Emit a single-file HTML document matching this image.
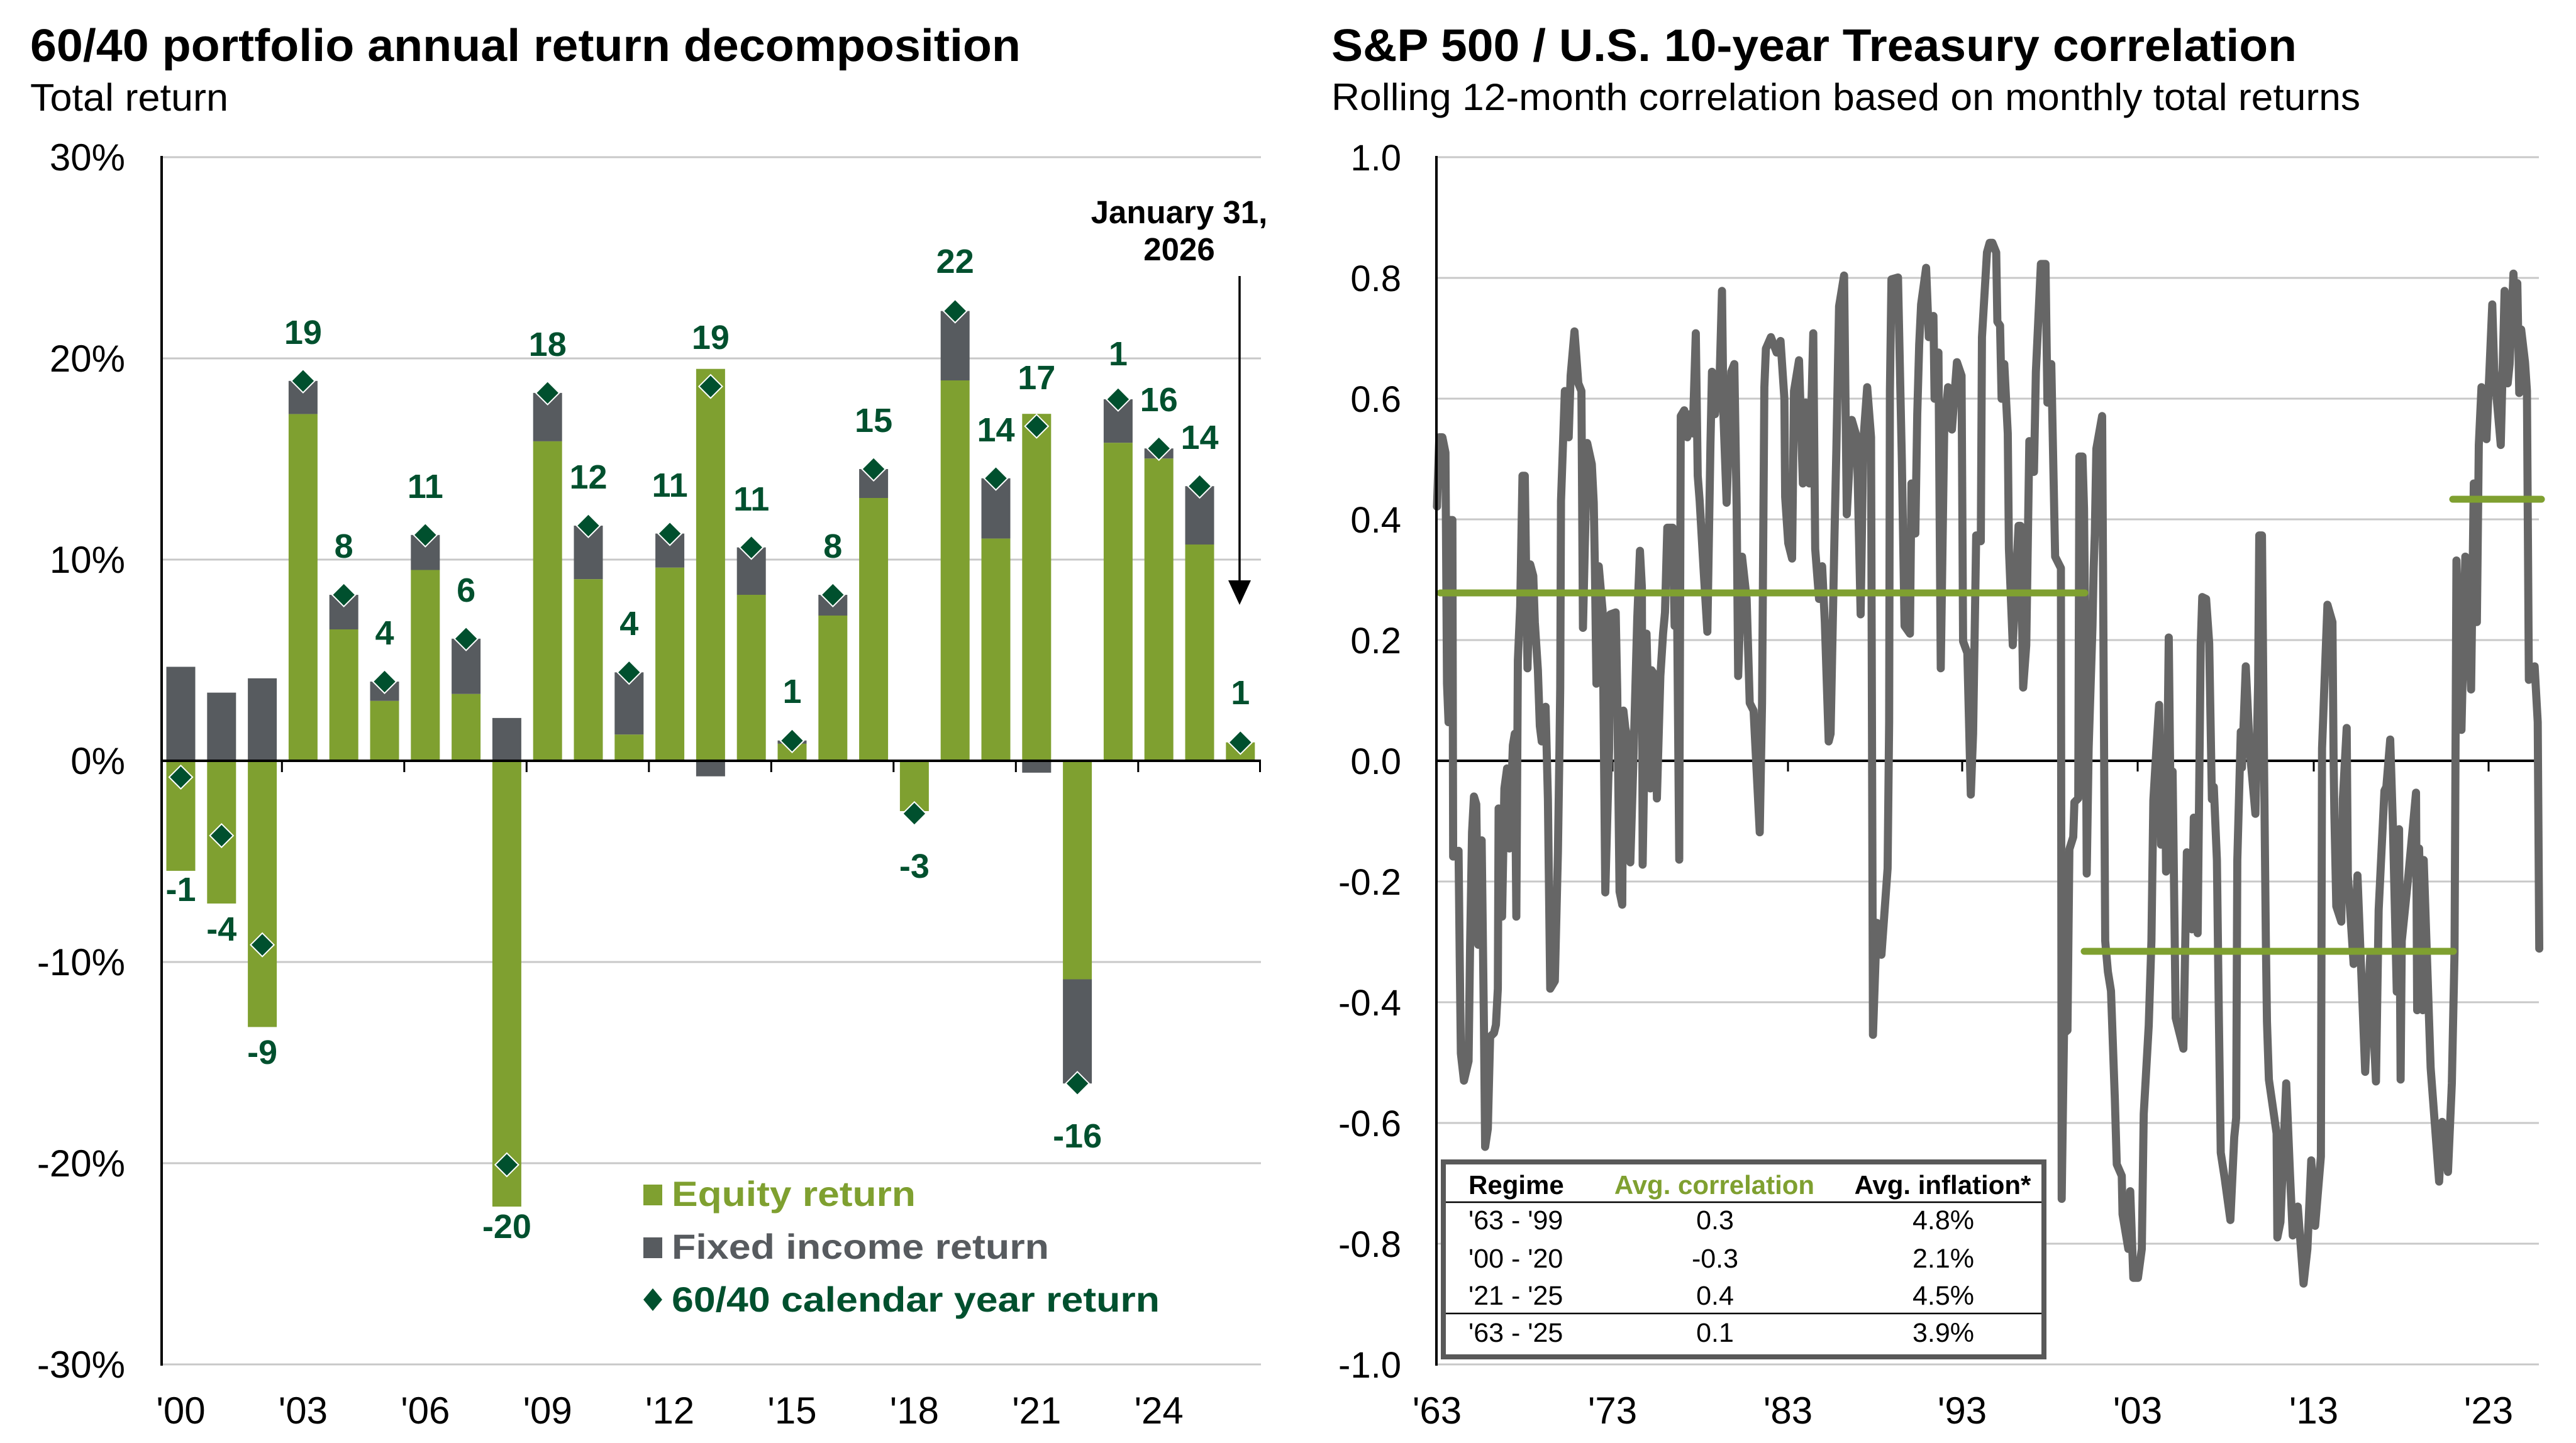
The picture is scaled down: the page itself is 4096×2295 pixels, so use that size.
<!DOCTYPE html>
<html><head><meta charset="utf-8"><style>
html,body{margin:0;padding:0;background:#fff;}
body{width:4096px;height:2295px;overflow:hidden;}
svg{display:block;font-family:"Liberation Sans",Arial,sans-serif;}
</style></head><body>
<svg width="4096" height="2295" viewBox="0 0 4096 2295" xmlns="http://www.w3.org/2000/svg">
<rect x="0" y="0" width="4096" height="2295" fill="#fff"/>

<!-- ============ LEFT CHART ============ -->
<text x="48" y="97" font-size="72" font-weight="bold" fill="#000" textLength="1575" lengthAdjust="spacingAndGlyphs">60/40 portfolio annual return decomposition</text>
<text x="48" y="176" font-size="61" fill="#000" textLength="315" lengthAdjust="spacingAndGlyphs">Total return</text>

<g stroke="#c8c8c8" stroke-width="3">
<line x1="257" y1="250" x2="2005" y2="250"/>
<line x1="257" y1="570" x2="2005" y2="570"/>
<line x1="257" y1="890" x2="2005" y2="890"/>
<line x1="257" y1="1530" x2="2005" y2="1530"/>
<line x1="257" y1="1850" x2="2005" y2="1850"/>
<line x1="257" y1="2170" x2="2005" y2="2170"/>
</g>

<g font-size="60" fill="#000" text-anchor="end">
<text x="199" y="271">30%</text>
<text x="199" y="591">20%</text>
<text x="199" y="911">10%</text>
<text x="199" y="1231">0%</text>
<text x="199" y="1551">-10%</text>
<text x="199" y="1871">-20%</text>
<text x="199" y="2191">-30%</text>
</g>

<!-- bars: gray fixed income -->
<g fill="#575b5f">
<rect x="264.5" y="1060.5" width="46" height="149.5"/>
<rect x="329.3" y="1101.6" width="46" height="108.4"/>
<rect x="394.1" y="1078.8" width="46" height="131.2"/>
<rect x="458.9" y="605.8" width="46" height="52.8"/>
<rect x="523.7" y="946" width="46" height="55"/>
<rect x="588.5" y="1084" width="46" height="30.8"/>
<rect x="653.3" y="850.8" width="46" height="55.7"/>
<rect x="718.1" y="1015.8" width="46" height="88"/>
<rect x="782.9" y="1141.9" width="46" height="68.1"/>
<rect x="847.7" y="624.9" width="46" height="77"/>
<rect x="912.5" y="836" width="46" height="85.2"/>
<rect x="977.3" y="1069.3" width="46" height="99"/>
<rect x="1042.1" y="848.6" width="46" height="54.2"/>
<rect x="1106.9" y="1210" width="46" height="24.7"/>
<rect x="1171.7" y="870.6" width="46" height="75.4"/>
<rect x="1236.5" y="1177.7" width="46" height="5.2"/>
<rect x="1301.3" y="946" width="46" height="33"/>
<rect x="1366.1" y="746" width="46" height="46"/>
<rect x="1495.7" y="494.6" width="46" height="110.4"/>
<rect x="1560.5" y="760.7" width="46" height="95.9"/>
<rect x="1625.3" y="1210" width="46" height="18.9"/>
<rect x="1690.1" y="1557.5" width="46" height="165.7"/>
<rect x="1754.9" y="635" width="46" height="69.3"/>
<rect x="1819.7" y="713.2" width="46" height="16.1"/>
<rect x="1884.5" y="773.2" width="46" height="92.8"/>
</g>
<!-- bars: green equity -->
<g fill="#7fa030">
<rect x="264.5" y="1210" width="46" height="175"/>
<rect x="329.3" y="1210" width="46" height="227"/>
<rect x="394.1" y="1210" width="46" height="423.4"/>
<rect x="458.9" y="658.6" width="46" height="551.4"/>
<rect x="523.7" y="1001" width="46" height="209"/>
<rect x="588.5" y="1114.8" width="46" height="95.2"/>
<rect x="653.3" y="906.5" width="46" height="303.5"/>
<rect x="718.1" y="1103.8" width="46" height="106.2"/>
<rect x="782.9" y="1210" width="46" height="709"/>
<rect x="847.7" y="701.9" width="46" height="508.1"/>
<rect x="912.5" y="921.2" width="46" height="288.8"/>
<rect x="977.3" y="1168.3" width="46" height="41.7"/>
<rect x="1042.1" y="902.8" width="46" height="307.2"/>
<rect x="1106.9" y="586.7" width="46" height="623.3"/>
<rect x="1171.7" y="946" width="46" height="264"/>
<rect x="1236.5" y="1182.9" width="46" height="27.1"/>
<rect x="1301.3" y="979" width="46" height="231"/>
<rect x="1366.1" y="792" width="46" height="418"/>
<rect x="1430.9" y="1210" width="46" height="80"/>
<rect x="1495.7" y="605" width="46" height="605"/>
<rect x="1560.5" y="856.6" width="46" height="353.4"/>
<rect x="1625.3" y="658.2" width="46" height="551.8"/>
<rect x="1690.1" y="1210" width="46" height="347.5"/>
<rect x="1754.9" y="704.3" width="46" height="505.7"/>
<rect x="1819.7" y="729.3" width="46" height="480.7"/>
<rect x="1884.5" y="866" width="46" height="344"/>
<rect x="1949.3" y="1180.7" width="46" height="29.3"/>
</g>

<!-- axes -->
<line x1="257" y1="248" x2="257" y2="2172" stroke="#000" stroke-width="4"/>
<line x1="255" y1="1210" x2="2005" y2="1210" stroke="#000" stroke-width="4"/>
<g stroke="#000" stroke-width="3">
<line x1="448.3" y1="1210" x2="448.3" y2="1228"/>
<line x1="642.8" y1="1210" x2="642.8" y2="1228"/>
<line x1="837.3" y1="1210" x2="837.3" y2="1228"/>
<line x1="1031.8" y1="1210" x2="1031.8" y2="1228"/>
<line x1="1226.3" y1="1210" x2="1226.3" y2="1228"/>
<line x1="1420.8" y1="1210" x2="1420.8" y2="1228"/>
<line x1="1615.3" y1="1210" x2="1615.3" y2="1228"/>
<line x1="1809.8" y1="1210" x2="1809.8" y2="1228"/>
<line x1="2003.5" y1="1210" x2="2003.5" y2="1228"/>
</g>

<!-- diamonds -->
<g fill="#00502e" stroke="#fff" stroke-width="2">
<polygon points="287.5,1217.4 306.1,1236 287.5,1254.6 268.9,1236"/>
<polygon points="352.3,1310.4 370.9,1329 352.3,1347.6 333.7,1329"/>
<polygon points="417.1,1484.1 435.7,1502.7 417.1,1521.3 398.5,1502.7"/>
<polygon points="481.9,587.2 500.5,605.8 481.9,624.4 463.3,605.8"/>
<polygon points="546.7,927.4 565.3,946 546.7,964.6 528.1,946"/>
<polygon points="611.5,1065.4 630.1,1084 611.5,1102.6 592.9,1084"/>
<polygon points="676.3,832.2 694.9,850.8 676.3,869.4 657.7,850.8"/>
<polygon points="741.1,997.2 759.7,1015.8 741.1,1034.4 722.5,1015.8"/>
<polygon points="805.9,1833.9 824.5,1852.5 805.9,1871.1 787.3,1852.5"/>
<polygon points="870.7,606.3 889.3,624.9 870.7,643.5 852.1,624.9"/>
<polygon points="935.5,817.4 954.1,836 935.5,854.6 916.9,836"/>
<polygon points="1000.3,1050.7 1018.9,1069.3 1000.3,1087.9 981.7,1069.3"/>
<polygon points="1065.1,830 1083.7,848.6 1065.1,867.2 1046.5,848.6"/>
<polygon points="1129.9,596 1148.5,614.6 1129.9,633.2 1111.3,614.6"/>
<polygon points="1194.7,852 1213.3,870.6 1194.7,889.2 1176.1,870.6"/>
<polygon points="1259.5,1159.4 1278.1,1178 1259.5,1196.6 1240.9,1178"/>
<polygon points="1324.3,927.4 1342.9,946 1324.3,964.6 1305.7,946"/>
<polygon points="1389.1,727.4 1407.7,746 1389.1,764.6 1370.5,746"/>
<polygon points="1453.9,1275.4 1472.5,1294 1453.9,1312.6 1435.3,1294"/>
<polygon points="1518.7,476 1537.3,494.6 1518.7,513.2 1500.1,494.6"/>
<polygon points="1583.5,742.1 1602.1,760.7 1583.5,779.3 1564.9,760.7"/>
<polygon points="1648.3,659.3 1666.9,677.9 1648.3,696.5 1629.7,677.9"/>
<polygon points="1713.1,1704.6 1731.7,1723.2 1713.1,1741.8 1694.5,1723.2"/>
<polygon points="1777.9,616.4 1796.5,635 1777.9,653.6 1759.3,635"/>
<polygon points="1842.7,694.6 1861.3,713.2 1842.7,731.8 1824.1,713.2"/>
<polygon points="1907.5,754.6 1926.1,773.2 1907.5,791.8 1888.9,773.2"/>
<polygon points="1972.3,1162.1 1990.9,1180.7 1972.3,1199.3 1953.7,1180.7"/>
</g>

<!-- data labels -->
<g font-size="54" font-weight="bold" fill="#00502e" text-anchor="middle">
<text x="287.5" y="1433">-1</text>
<text x="352.3" y="1496">-4</text>
<text x="417.1" y="1692">-9</text>
<text x="481.9" y="547">19</text>
<text x="546.7" y="887">8</text>
<text x="611.5" y="1025">4</text>
<text x="676.3" y="792">11</text>
<text x="741.1" y="957">6</text>
<text x="805.9" y="1969">-20</text>
<text x="870.7" y="566">18</text>
<text x="935.5" y="777">12</text>
<text x="1000.3" y="1010">4</text>
<text x="1065.1" y="790">11</text>
<text x="1129.9" y="555">19</text>
<text x="1194.7" y="812">11</text>
<text x="1259.5" y="1118">1</text>
<text x="1324.3" y="887">8</text>
<text x="1389.1" y="687">15</text>
<text x="1453.9" y="1396">-3</text>
<text x="1518.7" y="434">22</text>
<text x="1583.5" y="702">14</text>
<text x="1648.3" y="619">17</text>
<text x="1713.1" y="1825">-16</text>
<text x="1777.9" y="581">1</text>
<text x="1842.7" y="654">16</text>
<text x="1907.5" y="714">14</text>
<text x="1972.3" y="1120">1</text>
</g>

<!-- annotation -->
<g font-size="51" font-weight="bold" fill="#000" text-anchor="middle">
<text x="1875" y="355">January 31,</text>
<text x="1875" y="414">2026</text>
</g>
<line x1="1971" y1="439" x2="1971" y2="930" stroke="#000" stroke-width="3.5"/>
<polygon points="1953,923 1989,923 1971,962" fill="#000"/>

<!-- x labels -->
<g font-size="60" fill="#000" text-anchor="middle">
<text x="287.5" y="2264">'00</text>
<text x="481.9" y="2264">'03</text>
<text x="676.3" y="2264">'06</text>
<text x="870.7" y="2264">'09</text>
<text x="1065.1" y="2264">'12</text>
<text x="1259.5" y="2264">'15</text>
<text x="1453.9" y="2264">'18</text>
<text x="1648.3" y="2264">'21</text>
<text x="1842.7" y="2264">'24</text>
</g>

<!-- legend -->
<rect x="1023" y="1884" width="30" height="33" fill="#7fa030"/>
<rect x="1023" y="1968" width="30" height="33" fill="#575b5f"/>
<polygon points="1038,2049 1053,2067 1038,2085 1023,2067" fill="#00502e"/>
<g font-size="56" font-weight="bold">
<text x="1068" y="1918" fill="#7fa030" textLength="388" lengthAdjust="spacingAndGlyphs">Equity return</text>
<text x="1068" y="2002" fill="#575b5f" textLength="600" lengthAdjust="spacingAndGlyphs">Fixed income return</text>
<text x="1068" y="2086" fill="#00502e" textLength="776" lengthAdjust="spacingAndGlyphs">60/40 calendar year return</text>
</g>

<!-- ============ RIGHT CHART ============ -->
<text x="2117" y="97" font-size="72" font-weight="bold" fill="#000" textLength="1535" lengthAdjust="spacingAndGlyphs">S&amp;P 500 / U.S. 10-year Treasury correlation</text>
<text x="2117" y="175" font-size="60" fill="#000" textLength="1636" lengthAdjust="spacingAndGlyphs">Rolling 12-month correlation based on monthly total returns</text>

<g stroke="#c8c8c8" stroke-width="3">
<line x1="2284" y1="250" x2="4037" y2="250"/>
<line x1="2284" y1="442" x2="4037" y2="442"/>
<line x1="2284" y1="634" x2="4037" y2="634"/>
<line x1="2284" y1="826" x2="4037" y2="826"/>
<line x1="2284" y1="1018" x2="4037" y2="1018"/>
<line x1="2284" y1="1402" x2="4037" y2="1402"/>
<line x1="2284" y1="1594" x2="4037" y2="1594"/>
<line x1="2284" y1="1786" x2="4037" y2="1786"/>
<line x1="2284" y1="1978" x2="4037" y2="1978"/>
<line x1="2284" y1="2170" x2="4037" y2="2170"/>
</g>

<g font-size="58" fill="#000" text-anchor="end">
<text x="2228" y="271">1.0</text>
<text x="2228" y="463">0.8</text>
<text x="2228" y="655">0.6</text>
<text x="2228" y="847">0.4</text>
<text x="2228" y="1039">0.2</text>
<text x="2228" y="1231">0.0</text>
<text x="2228" y="1423">-0.2</text>
<text x="2228" y="1615">-0.4</text>
<text x="2228" y="1807">-0.6</text>
<text x="2228" y="1999">-0.8</text>
<text x="2228" y="2191">-1.0</text>
</g>

<g font-size="60" fill="#000" text-anchor="middle">
<text x="2285" y="2264">'63</text>
<text x="2564" y="2264">'73</text>
<text x="2843" y="2264">'83</text>
<text x="3120" y="2264">'93</text>
<text x="3399" y="2264">'03</text>
<text x="3679" y="2264">'13</text>
<text x="3957" y="2264">'23</text>
</g>

<line x1="2284" y1="1210" x2="4037" y2="1210" stroke="#000" stroke-width="4"/>
<g stroke="#000" stroke-width="3">
<line x1="2564" y1="1210" x2="2564" y2="1227"/>
<line x1="2843" y1="1210" x2="2843" y2="1227"/>
<line x1="3120" y1="1210" x2="3120" y2="1227"/>
<line x1="3399" y1="1210" x2="3399" y2="1227"/>
<line x1="3679" y1="1210" x2="3679" y2="1227"/>
<line x1="3957" y1="1210" x2="3957" y2="1227"/>
</g>

<g transform="translate(2280,230) scale(0.6124)">
<polyline fill="none" stroke="#666666" stroke-width="21" stroke-linejoin="round" stroke-linecap="round" points="8,940 14,760 22,760 30,800 34,1400 38,1500 41,975 48,975 50,1849 64,1834 67,2110 70,2360 78,2431 90,2380 94,2078 99,1786 104,1693 110,1713 115,2078 124,1807 130,2296 133,2603 140,2556 146,2317 156,2307 161,2286 166,2192 168,1724 177,2005 183,1672 190,1620 196,1828 205,1560 210,1530 214,2005 218,1340 224,1200 230,860 236,860 243,1360 250,1090 258,1120 262,1240 270,1365 275,1510 280,1550 290,1460 296,1700 302,2192 314,2172 322,1838 326,1568 328,1410 330,925 340,640 350,760 355,600 365,485 375,620 383,640 387,1255 398,775 410,830 415,930 418,1100 422,1400 428,1095 438,1210 445,1942 455,1568 458,1220 472,1215 476,1420 482,1940 489,1974 492,1470 497,1515 505,1550 510,1864 518,1600 528,1230 535,1055 540,1150 542,1870 548,1500 552,1270 562,1672 565,1365 575,1380 579,1698 588,1380 595,1270 600,1215 606,995 620,995 625,1250 630,1040 637,1857 641,705 650,690 658,760 665,700 672,750 680,490 685,860 690,925 700,1100 710,1265 718,780 722,590 730,700 742,600 748,380 752,710 760,930 772,590 780,570 786,940 790,1380 800,1070 812,1180 820,1450 830,1470 846,1786 852,1450 858,630 862,530 875,500 890,540 900,510 910,660 912,915 920,1035 930,1075 935,640 948,560 958,880 965,670 975,880 985,490 990,1050 1000,1180 1008,1095 1015,1240 1025,1550 1030,1530 1040,1020 1045,790 1052,420 1065,340 1072,960 1085,715 1098,760 1108,1220 1115,770 1125,630 1135,760 1140,2312 1150,2021 1162,2104 1178,1880 1182,1500 1184,640 1188,350 1205,345 1212,680 1215,820 1222,1250 1236,1270 1240,880 1250,1010 1255,700 1260,520 1265,415 1278,320 1285,500 1297,445 1300,660 1310,540 1316,1360 1325,740 1335,630 1345,740 1358,565 1370,600 1374,1290 1385,1320 1394,1688 1400,1530 1408,1015 1420,1030 1423,500 1436,280 1443,255 1450,255 1460,280 1463,460 1470,470 1474,660 1481,570 1490,750 1493,1050 1503,1300 1518,990 1523,990 1530,1410 1538,1300 1546,770 1558,850 1563,590 1576,310 1588,310 1593,670 1603,570 1613,1070 1628,1100 1630,2738 1636,2308 1645,2300 1650,1830 1660,1798 1663,1708 1673,1698 1676,810 1684,810 1688,945 1693,1470 1695,1893 1700,1568 1710,1250 1713,1100 1716,1010 1720,790 1735,705 1743,2068 1750,2148 1758,2198 1768,2478 1773,2648 1786,2678 1788,2778 1803,2868 1808,2718 1816,2943 1828,2943 1838,2868 1843,2518 1856,2288 1863,2068 1868,1703 1876,1568 1883,1455 1888,1818 1893,1628 1898,1550 1901,1888 1908,1280 1913,1748 1918,1628 1926,2268 1946,2348 1955,1838 1968,2038 1973,1748 1983,2048 1991,1300 1995,1175 2005,1180 2013,1295 2020,1700 2025,1668 2033,1858 2038,2258 2043,2618 2053,2683 2068,2793 2078,2578 2083,2528 2086,1858 2095,1525 2098,1618 2108,1355 2118,1568 2133,1738 2140,1400 2143,1015 2150,1015 2155,1568 2160,2058 2163,2278 2168,2428 2188,2568 2190,2838 2198,2798 2213,2438 2223,2678 2230,2833 2243,2758 2258,2958 2268,2868 2278,2638 2288,2808 2303,2628 2306,1568 2320,1195 2333,1240 2336,1598 2338,1738 2343,1978 2356,2018 2360,1700 2370,1515 2373,1898 2388,2128 2398,1898 2418,2408 2431,2108 2446,2433 2453,1988 2468,1678 2473,1668 2483,1545 2490,1768 2500,2200 2506,1778 2510,2428 2513,2068 2530,1900 2550,1683 2553,2248 2558,1828 2568,2248 2570,1858 2588,2398 2610,2693 2618,2538 2633,2668 2643,2438 2650,2098 2655,1080 2668,1520 2678,1070 2693,1415 2700,880 2708,1240 2713,780 2720,630 2733,765 2748,415 2753,585 2770,780 2780,380 2788,620 2793,570 2803,335 2808,480 2813,360 2818,645 2823,480 2833,565 2838,640 2843,1390 2858,1355 2866,1500 2870,2088"/>
</g>

<!-- regime averages -->
<g stroke="#7fa030" stroke-width="11" stroke-linecap="round">
<line x1="2290" y1="943" x2="3315" y2="943"/>
<line x1="3314" y1="1513" x2="3901" y2="1513"/>
<line x1="3900" y1="794" x2="4041" y2="794"/>
</g>

<line x1="2284" y1="248" x2="2284" y2="2172" stroke="#000" stroke-width="4"/>

<!-- table -->
<rect x="2295" y="1848" width="955" height="310" fill="#fff" stroke="#595959" stroke-width="8"/>
<g font-size="42" font-weight="bold">
<text x="2335" y="1899" fill="#000">Regime</text>
<text x="2726" y="1899" fill="#7fa030" text-anchor="middle">Avg. correlation</text>
<text x="3089" y="1899" fill="#000" text-anchor="middle">Avg. inflation*</text>
</g>
<line x1="2299" y1="1912" x2="3246" y2="1912" stroke="#000" stroke-width="2.5"/>
<line x1="2299" y1="2089" x2="3246" y2="2089" stroke="#000" stroke-width="2.5"/>
<g font-size="43" fill="#000">
<text x="2335" y="1955">'63 - '99</text>
<text x="2335" y="2016">'00 - '20</text>
<text x="2335" y="2075">'21 - '25</text>
<text x="2335" y="2134">'63 - '25</text>
</g>
<g font-size="43" fill="#000" text-anchor="middle">
<text x="2727" y="1955">0.3</text>
<text x="2727" y="2016">-0.3</text>
<text x="2727" y="2075">0.4</text>
<text x="2727" y="2134">0.1</text>
<text x="3090" y="1955">4.8%</text>
<text x="3090" y="2016">2.1%</text>
<text x="3090" y="2075">4.5%</text>
<text x="3090" y="2134">3.9%</text>
</g>
</svg>
</body></html>
